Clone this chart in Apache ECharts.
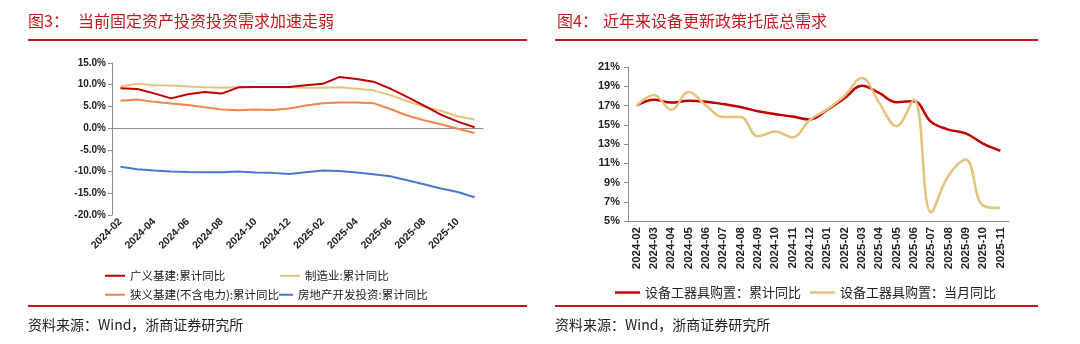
<!DOCTYPE html>
<html>
<head>
<meta charset="utf-8">
<script src="https://cdn.jsdelivr.net/npm/echarts@6/dist/echarts.min.js"></script>
<style>
  html, body { margin: 0; padding: 0; background: #fff; }
  #main { width: 1080px; height: 344px; }
</style>
</head>
<body>
<div id="main"></div>
<script>
// months shared by both panels
const categories = [
  '2024-02', '2024-03', '2024-04', '2024-05', '2024-06', '2024-07', '2024-08',
  '2024-09', '2024-10', '2024-11', '2024-12', '2025-01', '2025-02', '2025-03',
  '2025-04', '2025-05', '2025-06', '2025-07', '2025-08', '2025-09', '2025-10', '2025-11',
];

// 图3 (%)
const broadInfra = [9.2, 9.0, 8.0, 6.85, 7.8, 8.3, 7.95, 9.4, 9.45, 9.45, 9.5, 9.9, 10.2, 11.8, 11.3, 10.7, 9.1, 7.2, 5.2, 3.1, 1.5, 0.2];
const manufacturing = [9.6, 10.2, 9.9, 9.8, 9.6, 9.4, 9.3, 9.4, 9.45, 9.45, 9.4, 9.3, 9.3, 9.4, 9.05, 8.7, 7.6, 6.2, 5.0, 4.0, 2.75, 2.0];
const narrowInfra = [6.3, 6.6, 6.05, 5.7, 5.35, 4.8, 4.3, 4.1, 4.3, 4.2, 4.5, 5.2, 5.75, 5.9, 5.9, 5.75, 4.4, 2.9, 1.8, 0.9, -0.15, -1.1];
const realEstate = [-8.9, -9.45, -9.75, -10.0, -10.1, -10.15, -10.15, -10.0, -10.2, -10.3, -10.55, -10.15, -9.75, -9.85, -10.2, -10.6, -11.1, -12.0, -12.9, -13.9, -14.7, -15.9];

// 图4 (%)
const equipCum = [17.0, 17.6, 17.3, 17.5, 17.4, 17.15, 16.85, 16.4, 16.1, 15.85, 15.55, 16.55, 17.75, 19.05, 18.3, 17.35, 17.45, 15.3, 14.5, 14.1, 13.05, 12.3];
const equipMonth = [17.0, 18.1, 16.55, 18.4, 17.0, 15.8, 15.8, 13.8, 14.3, 13.7, 15.5, 16.6, 18.0, 19.85, 17.3, 14.85, 17.6, 5.9, 9.7, 11.4, 6.6, 6.35];

// tick labels
const leftTicks = [-20, -15, -10, -5, 0, 5, 10, 15];
const rightTicks = [5, 7, 9, 11, 13, 15, 17, 19, 21];

const RED = '#C00000';
const TAN = '#E3C37E';
const ORANGE = '#F3844C';
const BLUE = '#4A78D0';
const TITLE_RED = '#C8161D';
const CJK = '"Noto Sans CJK SC", sans-serif';
const LAT = '"Liberation Sans", Arial, sans-serif';

const chart = echarts.init(document.getElementById('main'), null, { renderer: 'canvas' });

const axisLineStyle = { color: '#8c8c8c', width: 1 };
const tickLabel = { color: '#222', fontWeight: 'bold', fontFamily: LAT };

const legendBase = {
  icon: 'rect',
  itemWidth: 20,
  itemHeight: 2,
  padding: 0,
  selectedMode: false,
  textStyle: { fontSize: 11.5, color: '#222', fontFamily: CJK },
};

const hline = (x1, x2, y) => ({
  type: 'rect',
  shape: { x: x1, y: y, width: x2 - x1, height: 2 },
  style: { fill: TITLE_RED },
});
const txt = (x, y, text, size, color) => ({
  type: 'text',
  x: x,
  y: y,
  style: { text: text, fill: color, font: size + 'px ' + CJK, verticalAlign: 'middle' },
});

chart.setOption({
  animation: false,
  backgroundColor: '#fff',
  graphic: [
    txt(28, 21, '图3：', 16, TITLE_RED),
    txt(78, 21, '当前固定资产投资投资需求加速走弱', 16, TITLE_RED),
    hline(28, 527, 39),
    txt(557, 21, '图4：', 16, TITLE_RED),
    txt(603, 21, '近年来设备更新政策托底总需求', 16, TITLE_RED),
    hline(555, 1038, 39),
    hline(28, 527, 305),
    hline(555, 1038, 305),
    txt(28, 325, '资料来源：Wind，浙商证券研究所', 14, '#222'),
    txt(555, 325, '资料来源：Wind，浙商证券研究所', 14, '#222'),
  ],
  legend: [
    Object.assign({}, legendBase, { data: ['广义基建:累计同比'], left: 105, top: 270 }),
    Object.assign({}, legendBase, { data: ['制造业:累计同比'], left: 280, top: 270 }),
    Object.assign({}, legendBase, { data: ['狭义基建(不含电力):累计同比'], left: 105, top: 289 }),
    Object.assign({}, legendBase, { data: ['房地产开发投资:累计同比'], left: 279, top: 289, itemWidth: 14 }),
    Object.assign({}, legendBase, {
      data: ['设备工器具购置：累计同比', '设备工器具购置：当月同比'],
      left: 615, top: 286, itemWidth: 25, itemHeight: 2.5, itemGap: 9,
      textStyle: { fontSize: 13, color: '#222', fontFamily: CJK },
    }),
  ],
  grid: [
    { left: 112, top: 63, width: 371, height: 152 },
    { left: 628, top: 67, width: 381, height: 154 },
  ],
  xAxis: [
    {
      type: 'category',
      gridIndex: 0,
      data: categories,
      boundaryGap: true,
      axisLine: { onZero: true, lineStyle: axisLineStyle },
      axisTick: { interval: 1, length: 4, lineStyle: axisLineStyle },
      axisLabel: Object.assign({ interval: 1, rotate: 45, margin: 5, fontSize: 10.5 }, tickLabel),
      splitLine: { show: false },
    },
    {
      type: 'category',
      gridIndex: 1,
      data: categories,
      boundaryGap: true,
      axisLine: { lineStyle: axisLineStyle },
      axisTick: { interval: 0, length: 4, lineStyle: axisLineStyle },
      axisLabel: Object.assign({ interval: 0, rotate: 90, margin: 6, fontSize: 11.5 }, tickLabel),
      splitLine: { show: false },
    },
  ],
  yAxis: [
    {
      type: 'value',
      gridIndex: 0,
      min: leftTicks[0],
      max: leftTicks[leftTicks.length - 1],
      interval: 5,
      axisLine: { show: true, lineStyle: axisLineStyle },
      axisTick: { show: true, length: 4, lineStyle: axisLineStyle },
      axisLabel: Object.assign({ fontSize: 10, margin: 6, formatter: (v) => v.toFixed(1) + '%' }, tickLabel),
      splitLine: { show: false },
    },
    {
      type: 'value',
      gridIndex: 1,
      min: rightTicks[0],
      max: rightTicks[rightTicks.length - 1],
      axisLine: { show: true, lineStyle: axisLineStyle },
      axisTick: { show: true, length: 4, lineStyle: axisLineStyle, customValues: rightTicks },
      axisLabel: Object.assign({ fontSize: 11, margin: 8, customValues: rightTicks, formatter: (v) => v + '%' }, tickLabel),
      splitLine: { show: false },
    },
  ],
  series: [
    { name: '广义基建:累计同比', type: 'line', xAxisIndex: 0, yAxisIndex: 0, data: broadInfra, showSymbol: false, color: RED, lineStyle: { width: 2, color: RED }, z: 5 },
    { name: '制造业:累计同比', type: 'line', xAxisIndex: 0, yAxisIndex: 0, data: manufacturing, showSymbol: false, color: TAN, lineStyle: { width: 2, color: TAN }, z: 4 },
    { name: '狭义基建(不含电力):累计同比', type: 'line', xAxisIndex: 0, yAxisIndex: 0, data: narrowInfra, showSymbol: false, color: ORANGE, lineStyle: { width: 2, color: ORANGE }, z: 3 },
    { name: '房地产开发投资:累计同比', type: 'line', xAxisIndex: 0, yAxisIndex: 0, data: realEstate, showSymbol: false, color: BLUE, lineStyle: { width: 2, color: BLUE }, z: 3 },
    { name: '设备工器具购置：累计同比', type: 'line', xAxisIndex: 1, yAxisIndex: 1, data: equipCum, smooth: 0.4, showSymbol: false, color: RED, lineStyle: { width: 2.5, color: RED }, z: 4 },
    { name: '设备工器具购置：当月同比', type: 'line', xAxisIndex: 1, yAxisIndex: 1, data: equipMonth, smooth: 0.4, showSymbol: false, color: TAN, lineStyle: { width: 2.5, color: TAN }, z: 5 },
  ],
});
</script>
</body>
</html>
